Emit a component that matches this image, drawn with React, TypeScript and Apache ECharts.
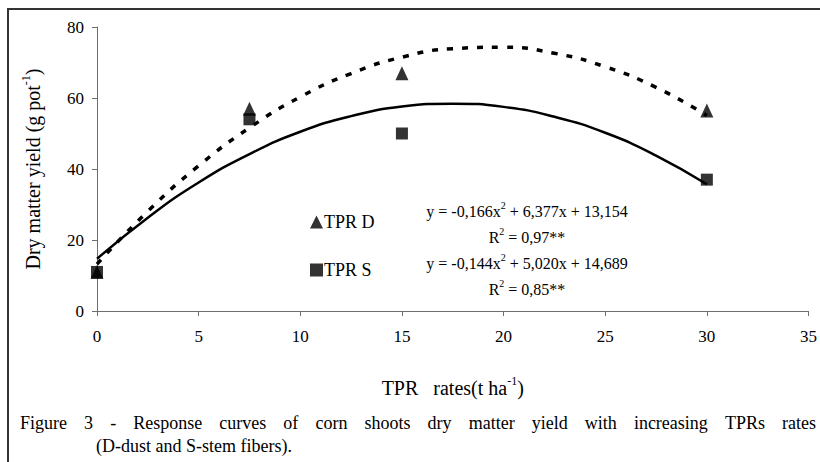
import React, { useEffect, useRef } from 'react';
import * as echarts from 'echarts';

const FONT = 'Liberation Serif';

const pointX = [0, 7.5, 15, 30];
const dustPoints = [11, 57, 67, 56.5];
const stemPoints = [11, 54, 50, 37];

const curveX = [0, 2.5, 5, 7.5, 10, 12.5, 15, 17.5, 20, 22.5, 25, 27.5, 30];
const dustCurve = [13.2, 28.1, 40.9, 51.6, 60.3, 66.9, 71.5, 73.9, 74.3, 72.6, 68.8, 63.0, 55.1];
const stemCurve = [14.7, 26.3, 36.2, 44.2, 50.5, 54.9, 57.6, 58.4, 57.5, 54.7, 50.2, 43.8, 35.7];

const seriesNames = ['TPR D', 'TPR S'];
const equationD = ['y = -0,166x', '2', ' + 6,377x + 13,154'];
const r2D = ['R', '2', ' = 0,97**'];
const equationS = ['y = -0,144x', '2', ' + 5,020x + 14,689'];
const r2S = ['R', '2', ' = 0,85**'];

const xTitle = ['TPR\u00a0\u00a0 rates(t ha', '-1', ')'];
const yTitle = ['Dry matter yield (g pot', '-1', ')'];

const captionLine1 = 'Figure 3 - Response curves of corn shoots dry matter yield with increasing TPRs rates';
const captionLine2 = '(D-dust and S-stem fibers).';

const supRich = {
  n: { fontFamily: FONT, fontSize: 16, lineHeight: 19, color: '#000', verticalAlign: 'bottom' },
  s: { fontFamily: FONT, fontSize: 10, lineHeight: 10, color: '#000', verticalAlign: 'top' },
};

const titleRich = {
  n: { fontFamily: FONT, fontSize: 20, lineHeight: 23, color: '#000', verticalAlign: 'bottom' },
  s: { fontFamily: FONT, fontSize: 12, lineHeight: 12, color: '#000', verticalAlign: 'top' },
};

function supText(parts: string[]) {
  return `{n|${parts[0]}}{s|${parts[1]}}{n|${parts[2]}}`;
}

function justified(text: string, fontSize: number, x0: number, x1: number, y: number) {
  const words = text.split(' ');
  const canvas = document.createElement('canvas');
  const ctx = canvas.getContext('2d')!;
  ctx.font = `${fontSize}px "Liberation Serif"`;
  const widths = words.map((w) => ctx.measureText(w).width);
  const total = widths.reduce((a, b) => a + b, 0);
  const gap = (x1 - x0 - total) / (words.length - 1);
  let x = x0;
  return words.map((w, i) => {
    const el = {
      type: 'text',
      x,
      y,
      style: { text: w, fontFamily: FONT, fontSize, fill: '#000', textVerticalAlign: 'middle' },
    };
    x += widths[i] + gap;
    return el;
  });
}

export default function App() {
  const ref = useRef<HTMLDivElement>(null);
  useEffect(() => {
    if (!ref.current) return;
    const chart = echarts.init(ref.current, null, { renderer: 'svg' });
    const pairs = (xs: number[], ys: number[]) => xs.map((x, i) => [x, ys[i]]);
    chart.setOption({
      animation: false,
      backgroundColor: '#fff',
      textStyle: { fontFamily: FONT },
      grid: { left: 97, right: 9, top: 27, bottom: 151 },
      legend: {
        orient: 'vertical',
        left: 305,
        top: 208,
        itemGap: 30,
        itemWidth: 13,
        itemHeight: 13,
        data: [
          { name: seriesNames[0], icon: 'triangle' },
          { name: seriesNames[1], icon: 'rect' },
        ],
        textStyle: { fontFamily: FONT, fontSize: 18, color: '#000', padding: [0, 0, 0, -4] },
      },
      xAxis: {
        type: 'value',
        min: 0,
        max: 35,
        interval: 5,
        name: supText(xTitle),
        nameLocation: 'middle',
        nameGap: 64,
        nameTextStyle: { rich: titleRich },
        axisLine: { lineStyle: { color: '#6e6e6e', width: 1 } },
        axisTick: { inside: false, length: 5, lineStyle: { color: '#6e6e6e' } },
        axisLabel: { fontFamily: FONT, fontSize: 17, color: '#000', margin: 17 },
        splitLine: { show: false },
      },
      yAxis: {
        type: 'value',
        min: 0,
        max: 80,
        interval: 20,
        name: supText(yTitle),
        nameLocation: 'middle',
        nameGap: 54,
        nameTextStyle: { rich: titleRich },
        axisLine: { show: true, lineStyle: { color: '#6e6e6e', width: 1 } },
        axisTick: { show: true, inside: false, length: 5, lineStyle: { color: '#6e6e6e' } },
        axisLabel: { fontFamily: FONT, fontSize: 17, color: '#000', margin: 13 },
        splitLine: { show: false },
      },
      series: [
        {
          name: 'D fit',
          type: 'line',
          data: pairs(curveX, dustCurve),
          smooth: true,
          symbol: 'none',
          lineStyle: { color: '#000', width: 3.5, type: [6, 9], cap: 'butt' },
          z: 2,
        },
        {
          name: 'S fit',
          type: 'line',
          data: pairs(curveX, stemCurve),
          smooth: true,
          symbol: 'none',
          lineStyle: { color: '#000', width: 2.5 },
          z: 2,
        },
        {
          name: seriesNames[0],
          type: 'scatter',
          data: pairs(pointX, dustPoints),
          symbol: 'triangle',
          symbolSize: [13, 14],
          itemStyle: { color: '#000' },
          z: 3,
        },
        {
          name: seriesNames[1],
          type: 'scatter',
          data: pairs(pointX, stemPoints),
          symbol: 'rect',
          symbolSize: 12,
          itemStyle: { color: '#000' },
          z: 4,
        },
      ],
      graphic: [
        {
          type: 'rect',
          shape: { x: 8, y: 9, width: 900, height: 600 },
          style: { fill: 'none', stroke: '#333', lineWidth: 2 },
          silent: true,
        },
        { type: 'text', x: 527, y: 210, style: { text: supText(equationD), rich: supRich, textAlign: 'center', textVerticalAlign: 'middle' } },
        { type: 'text', x: 527, y: 236, style: { text: supText(r2D), rich: supRich, textAlign: 'center', textVerticalAlign: 'middle' } },
        { type: 'text', x: 527, y: 262, style: { text: supText(equationS), rich: supRich, textAlign: 'center', textVerticalAlign: 'middle' } },
        { type: 'text', x: 527, y: 288, style: { text: supText(r2S), rich: supRich, textAlign: 'center', textVerticalAlign: 'middle' } },
        ...justified(captionLine1, 18, 20, 816, 423),
        { type: 'text', x: 96, y: 446, style: { text: captionLine2, fontFamily: FONT, fontSize: 18, fill: '#000', textVerticalAlign: 'middle' } },
      ],
    });
    return () => chart.dispose();
  }, []);
  return <div ref={ref} style={{ position: 'fixed', left: 0, top: 0, width: 820, height: 462 }} />;
}
